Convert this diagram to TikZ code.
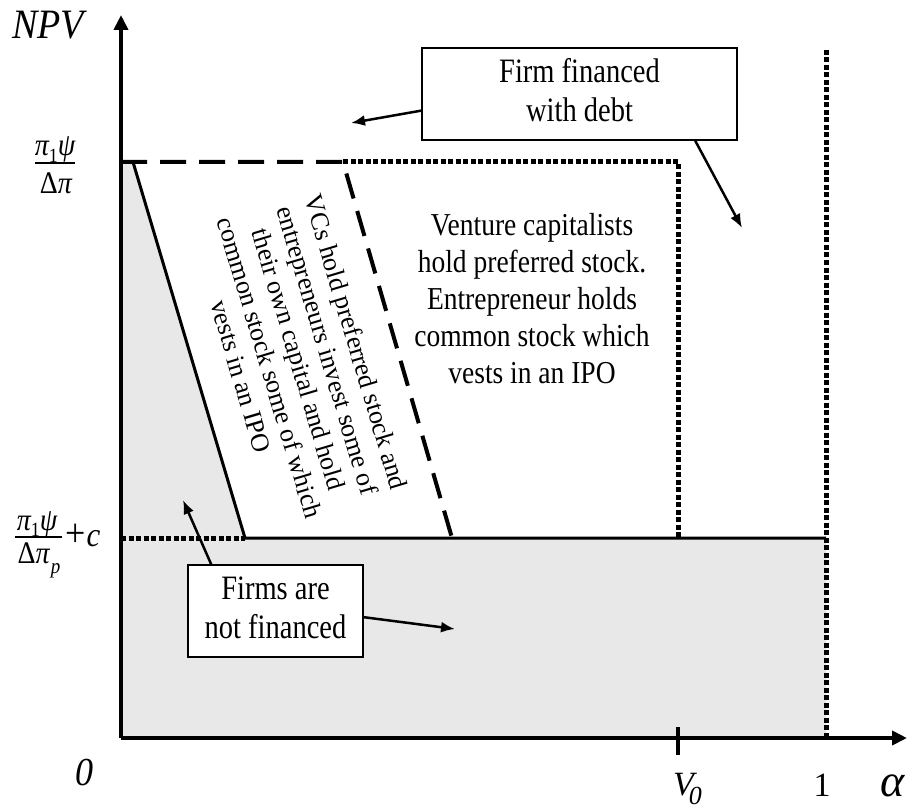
\documentclass[tikz,border=0pt]{standalone}
\usepackage{fontspec}
\setmainfont{Liberation Serif}
\usetikzlibrary{arrows.meta}
\tikzset{
  axis/.style={line width=4pt, -{Triangle[length=15pt,width=14pt]}},
  solidln/.style={line width=3pt, line join=miter},
  dashln/.style={line width=4pt, dash pattern=on 26pt off 13pt},
  dotln/.style={line width=5pt, dash pattern=on 5pt off 2.5pt},
  shade/.style={fill=black!9},
  infobox/.style={draw, line width=1.5pt, fill=white, inner sep=0pt, align=center},
  pointer/.style={line width=2.5pt, -{Latex[length=14pt,width=11pt]}},
  lbl/.style={inner sep=0pt},
  fracbar/.style={line width=1.3pt}
}
\newcommand{\bigtxt}[1]{\scalebox{1}[1.2]{\fontsize{28.5}{33}\selectfont\begin{tabular}{@{}c@{}}#1\end{tabular}}}
\newcommand{\regtxt}[1]{\scalebox{1}[1.16]{\fontsize{27.5}{32}\selectfont\begin{tabular}{@{}c@{}}#1\end{tabular}}}
\newcommand{\mth}[1]{\scalebox{1}[1.12]{\fontsize{28}{30}\selectfont #1}}
\newcommand{\numer}{\mth{\itshape π\raisebox{-0.2em}{\upshape\fontsize{18}{20}\selectfont 1}ψ}}
\begin{document}
\begin{tikzpicture}[x=1pt, y=-1pt]
\useasboundingbox (0,0) rectangle (912,810);
% shaded region
\fill[shade] (121,162) -- (133,162) -- (245,538) -- (826,538) -- (826,738) -- (121,738) -- cycle;
% boundaries
\draw[dotln] (826,50) -- (826,738);
\draw[dotln] (343,162) -- (678,162) -- (678,538);
\draw[dotln] (121,538) -- (245,538);
\draw[dashln] (121,162) -- (343,162) -- (452,538);
\draw[solidln] (133,162) -- (245,538) -- (826,538);
% axes
\coordinate (O) at (121,738);
\coordinate (ytop) at (121,15);
\coordinate (xend) at (907,738);
\draw[axis] (O) -- (ytop);
\draw[axis] (O) -- (xend);
\coordinate (tk1) at (678,727);
\coordinate (tk2) at (678,755);
\draw[line width=4pt] (tk1) -- (tk2);
% axis labels
\node[lbl] (npv) at (48,25) {\scalebox{1}[1.1]{\fontsize{38}{40}\selectfont\itshape NPV}};
\node[lbl] (zero) at (84,773) {\scalebox{1}[1.1]{\fontsize{36}{40}\selectfont\itshape 0}};
\node[lbl, anchor=base west] (v0) at (673,795) {\fontsize{34}{40}\selectfont\itshape V\kern-5pt\raisebox{-9pt}{\fontsize{26}{28}\selectfont 0}};
\node[lbl, anchor=base] (one) at (822,796) {\fontsize{34}{38}\selectfont 1};
\node[lbl] (alpha) at (893,786) {\fontsize{46}{50}\selectfont\itshape α};
% fraction 1
\coordinate (b1l) at (35,163);
\coordinate (b1r) at (75,163);
\draw[fracbar] (b1l) -- (b1r);
\node[lbl, anchor=base] (f1n) at (55,156) {\numer};
\node[lbl, anchor=base] (f1d) at (56,194) {\mth{Δ\itshape π}};
% fraction 2
\coordinate (b2l) at (15,537);
\coordinate (b2r) at (62,537);
\draw[fracbar] (b2l) -- (b2r);
\node[lbl, anchor=base] (f2n) at (37,530) {\numer};
\node[lbl, anchor=base] (f2d) at (39,563) {\mth{Δ\itshape π\kern1pt\raisebox{-0.35em}{\fontsize{19}{20}\selectfont p}}};
\node[lbl, anchor=base west] (f2c) at (65,546) {\scalebox{1}[1.1]{{\fontsize{36}{38}\selectfont +}\kern1pt{\fontsize{31}{34}\selectfont\itshape c}}};
% region texts
\node[lbl] (vc) at (532,302) {\regtxt{Venture capitalists\\hold preferred stock.\\Entrepreneur holds\\common stock which\\vests in an IPO}};
\node[lbl, rotate=-73.4] (mix) at (296,360) {\fontsize{26}{30}\selectfont\begin{tabular}{@{}c@{}}VCs hold preferred stock and\\entrepreneurs invest some of\\their own capital and hold\\common stock some of which\\vests in an IPO\end{tabular}};
% boxes
\node[infobox, minimum width=315pt, minimum height=92pt] (debt) at (579.5,94) {\raisebox{-3pt}{\bigtxt{Firm financed\\with debt}}};
\node[infobox, minimum width=175pt, minimum height=92pt] (nofin) at (275.5,611) {\raisebox{-2pt}{\bigtxt{Firms are\\not financed}}};
% pointers
\coordinate (p1) at (351,123);
\coordinate (p2) at (742,228);
\coordinate (p3) at (183,500);
\coordinate (p4) at (455,629);
\draw[pointer] (debt.186) -- (p1);
\draw[pointer] (debt.338.5) -- (p2);
\draw[pointer] (nofin.144.9) -- (p3);
\draw[pointer] (nofin.356.7) -- (p4);
\end{tikzpicture}
\end{document}
